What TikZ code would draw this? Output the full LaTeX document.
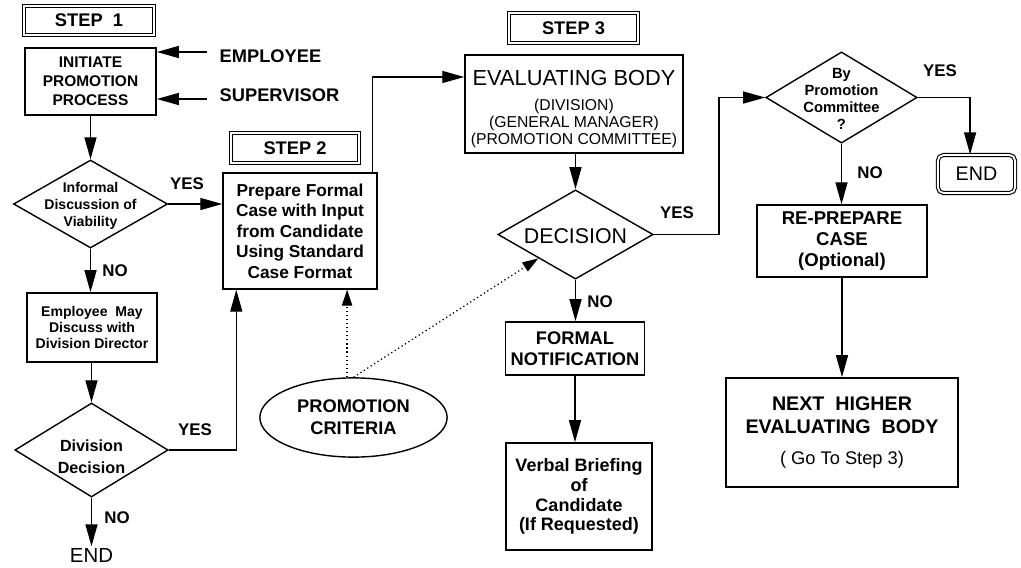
\documentclass[tikz,border=0pt]{standalone}
\usepackage{fontspec}
\setmainfont{Liberation Sans}
\usetikzlibrary{arrows.meta,shapes.geometric}

\newcommand{\taille}[2]{\fontsize{#1}{#2}\selectfont}
\newcommand{\dedans}[2][0pt]{\smash{\raisebox{#1}{\makebox[0pt]{\begin{tabular}{@{}c@{}}#2\end{tabular}}}}}

\tikzset{boite/.style 2 args = {rectangle, draw, line width=1pt, align=center,
                               minimum width=#1, minimum height=#2},
         etape/.style = {rectangle, draw, double, double distance=1.3pt, line width=0.8pt,
                         minimum width=#1, minimum height=0.73cm, font=\bfseries\taille{13}{15}},
         etape/.default=3.2cm,
         losange/.style 2 args = {diamond, draw, line width=1pt, inner sep=0pt,
                                  minimum width=#1, minimum height=#2},
         fleche/.style = {line width=1pt, -{Triangle[length=5.5mm,width=3mm]}},
         pointille/.style = {line width=0.9pt, dotted, -{Triangle[length=4mm,width=2.6mm]}}
        }

\begin{document}
\begin{tikzpicture}[x=0.025cm, y=-0.025cm]
  \tikzstyle{every node}=[inner sep=1pt]
  \tikzstyle{rep}=[font=\bfseries\taille{12}{14}]
  \useasboundingbox (0,0) rectangle (1021,567);

  \node[etape={3.25cm}] (etape1) at (89,20.5) {STEP~~1};
  \node[boite={3.28cm}{1.68cm}, font=\bfseries\taille{11}{13.5}] (lancer) at (90.5,81.5) {INITIATE\\PROMOTION\\PROCESS};
  \node[anchor=west, font=\bfseries\taille{13}{15}] (employe) at (218,56) {EMPLOYEE};
  \node[anchor=west, font=\bfseries\taille{13}{15}] (superviseur) at (218,95) {SUPERVISOR};
  \node[losange={3.85cm}{2.2cm}, font=\bfseries\taille{10}{12}] (informel) at (90.5,204) {\dedans[-3.9pt]{Informal\\Discussion of\\Viability}};
  \node[boite={3.25cm}{1.73cm}, font=\bfseries\taille{10}{11.7}] (directeur) at (92,327.5) {Employee~~May\\Discuss with\\Division Director};
  \node[losange={3.83cm}{2.35cm}, font=\bfseries\taille{11.5}{15}] (division) at (91.5,450) {\dedans[-8.9pt]{Division\\Decision}};
  \node[font=\taille{14.5}{16}] (fin1) at (91.5,555) {END};

  \node[etape] (etape2) at (295,148) {STEP 2};
  \node[boite={3.85cm}{2.9cm}, font=\bfseries\taille{12.3}{14.6}] (preparer) at (300,231) {Prepare Formal\\Case with Input\\from Candidate\\Using Standard\\Case Format};
  \node[ellipse, draw, line width=1pt, minimum width=4.68cm, minimum height=1.98cm, align=center,
        font=\bfseries\taille{13}{15.6}] (criteres) at (353.5,417.5) {PROMOTION\\CRITERIA};

  \node[etape={3.23cm}] (etape3) at (573.5,28) {STEP 3};
  \node[boite={5.45cm}{2.45cm}, font=\taille{11.2}{12}] (evaluer) at (574,104) {{\taille{15.5}{17}\rule{0pt}{18pt}EVALUATING BODY}\\[6pt](DIVISION)\\(GENERAL MANAGER)\\(PROMOTION COMMITTEE)};
  \node[losange={3.88cm}{2.23cm}, font=\taille{15.2}{17}] (decision) at (575.5,234.5) {\dedans[-6.6pt]{DECISION}};
  \node[boite={3.48cm}{1.33cm}, font=\bfseries\taille{13}{15}] (notification) at (575,348.5) {FORMAL\\NOTIFICATION};
  \node[boite={3.65cm}{2.68cm}, font=\bfseries\taille{12.8}{14}] (briefing) at (579,496.5) {Verbal Briefing\\of\\Candidate\\(If Requested)};

  \node[losange={3.78cm}{2.28cm}, font=\bfseries\taille{10.5}{12}] (comite) at (841.5,97.5) {\dedans[-5.1pt]{By\\Promotion\\Committee\\?}};
  \node[etape, rounded corners=4pt, minimum width=1.93cm, minimum height=0.95cm, font=\taille{14}{16}] (fin2) at (976.5,174) {END};
  \node[boite={4.25cm}{1.8cm}, font=\bfseries\taille{13.2}{15}] (repreparer) at (842,241) {RE-PREPARE\\CASE\\(Optional)};
  \node[boite={5.8cm}{2.73cm}, font=\bfseries\taille{14}{16.4}] (suivant) at (842,432.5) {NEXT~~HIGHER\\EVALUATING~~BODY\\[6pt]{\mdseries\taille{13}{14}( Go To Step 3)}};

  \node[rep] (oui1) at (187,184) {YES};
  \node[rep] (non1) at (115,271) {NO};
  \node[rep] (oui2) at (195,430) {YES};
  \node[rep] (non2) at (117,518) {NO};
  \node[rep] (oui3) at (677,213) {YES};
  \node[rep] (non3) at (600,302) {NO};
  \node[rep] (oui4) at (940,71) {YES};
  \node[rep] (non4) at (870,173) {NO};

  \draw[fleche] ([xshift=-2.75mm,yshift=1mm]employe.west) -- ([yshift=1mm]employe.west -| lancer.east);
  \draw[fleche] ([xshift=-2.75mm,yshift=-1mm]superviseur.west) -- ([yshift=-1mm]superviseur.west -| lancer.east);
  \draw[fleche] (lancer.south) -- (informel.north);
  \draw[fleche] (informel.east) -- (informel.east -| preparer.west);
  \draw[fleche] (informel.south) -- (informel.south |- directeur.north);
  \draw[fleche] (directeur.south -| division.north) -- (division.north);
  \draw[fleche] (division.east) -| ([xshift=3.5mm]preparer.south west);
  \draw[fleche] (division.south) -- (fin1.north);
  \draw[fleche] ([xshift=-1.25mm]preparer.north east) |- ([yshift=6.75mm]evaluer.west);
  \draw[pointille] ([xshift=-1.6mm]criteres.north) -- ([xshift=-1.6mm]criteres.north |- preparer.south);
  \draw[pointille] (criteres.north) -- (decision);
  \draw[fleche] (evaluer.south -| decision.north) -- (decision.north);
  \draw[fleche] (decision.south) -- (decision.south |- notification.north);
  \draw[fleche] (notification.south) -- (notification.south |- briefing.north);
  \draw[fleche] (decision.east) -- ++(65,0) |- (comite.west);
  \draw[fleche] (comite.east) -| ([xshift=-1.6mm]fin2.north);
  \draw[fleche] (comite.south) -- (comite.south |- repreparer.north);
  \draw[fleche] (repreparer.south) -- (suivant.north);
\end{tikzpicture}
\end{document}
